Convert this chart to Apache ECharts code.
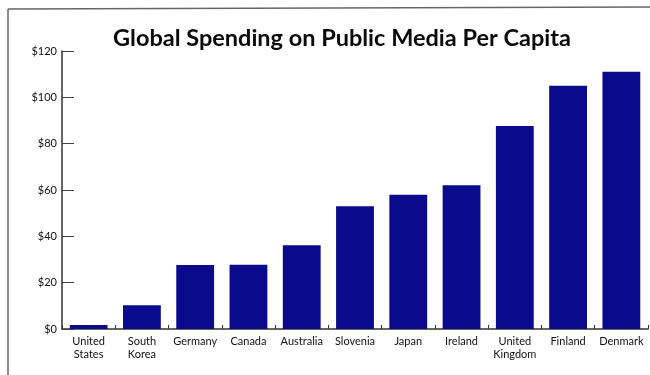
<!DOCTYPE html>
<html><head><meta charset="utf-8">
<script src="https://cdn.jsdelivr.net/npm/echarts@6/dist/echarts.min.js"></script>
<style>html,body{margin:0;padding:0;background:#fff}#c{width:650px;height:375px}</style>
</head><body><div id="c"></div>
<script>
var categories = ["United\nStates","South\nKorea","Germany","Canada","Australia","Slovenia","Japan","Ireland","United\nKingdom","Finland","Denmark"];
var values = [1.7, 10.2, 27.6, 27.7, 36.2, 53, 58, 62, 87.6, 105, 111];
var yTicks = [0, 20, 40, 60, 80, 100, 120];
var titleText = "Global Spending on Public Media Per Capita";

var chart = echarts.init(document.getElementById('c'), null, {renderer:'canvas'});
chart.setOption({
  animation:false,
  backgroundColor:'#fff',
  title:{text:titleText,left:337,top:21,textAlign:'center',
    textStyle:{fontFamily:'Lato',fontWeight:'bold',fontSize:23.5,color:'#0a0a0a'}},
  grid:{left:62,right:2,top:51,bottom:46,containLabel:false},
  xAxis:{type:'category',data:categories,
    axisLine:{lineStyle:{color:'#333',width:1.5}},
    axisTick:{show:true,inside:true,length:4,alignWithLabel:false,lineStyle:{color:'#333'}},
    axisLabel:{fontFamily:'Lato',fontSize:11,color:'#111',margin:6,lineHeight:13,interval:0}},
  yAxis:{type:'value',min:yTicks[0],max:yTicks[yTicks.length-1],interval:20,
    axisLine:{show:true,lineStyle:{color:'#333',width:1.5}},
    axisTick:{show:true,inside:true,length:12,lineStyle:{color:'#444'}},
    splitLine:{show:false},
    axisLabel:{fontFamily:'Lato',fontSize:11,color:'#111',margin:5,formatter:function(v){return '$'+v;}}},
  series:[{type:'bar',data:values,barCategoryGap:'29%',itemStyle:{color:'#0a0a8c'}}],
  graphic:[
    {type:'line',shape:{x1:8,y1:9,x2:650,y2:7},style:{stroke:'#666',lineWidth:1.5}},
    {type:'line',shape:{x1:8,y1:9,x2:8,y2:375},style:{stroke:'#666',lineWidth:1.5}}
  ]
});
</script></body></html>
